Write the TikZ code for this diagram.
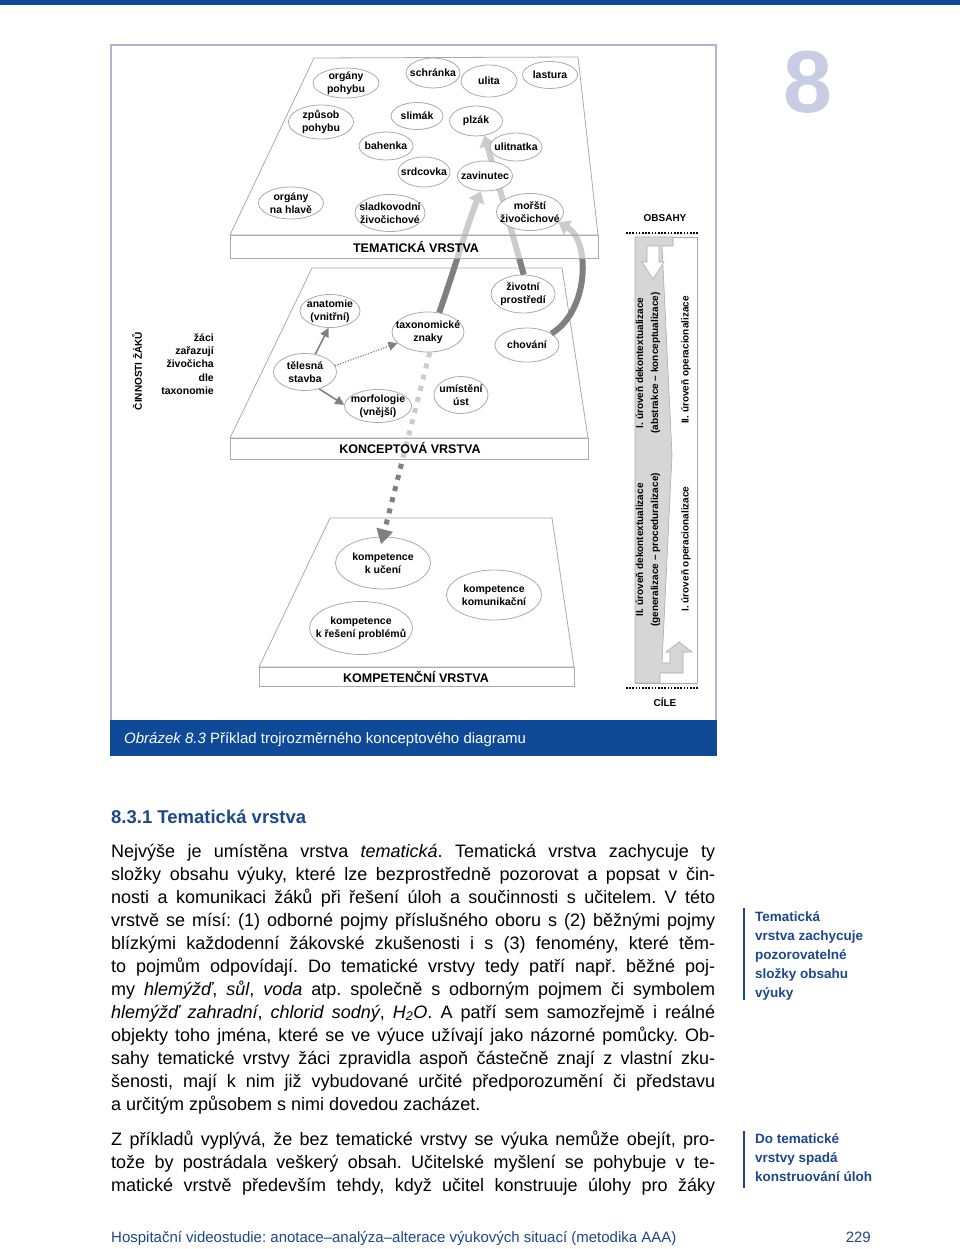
\documentclass[tikz,border=0pt]{standalone}
\usepackage{fontspec}
\setmainfont{Liberation Sans}
\usetikzlibrary{shapes.geometric,arrows.meta}
\definecolor{pblue}{RGB}{14,74,152}
\definecolor{txtblue}{RGB}{28,72,140}
\definecolor{frameblue}{RGB}{172,182,212}
\definecolor{lgray}{RGB}{170,170,170}
\definecolor{agray}{RGB}{128,128,128}
\definecolor{barg}{RGB}{214,214,214}
\definecolor{eightc}{RGB}{200,205,228}
\pgfdeclarelayer{layzero}
\pgfdeclarelayer{layone}
\pgfdeclarelayer{laytwo}
\pgfdeclarelayer{laythree}
\pgfdeclarelayer{layfour}
\pgfdeclarelayer{layfive}
\pgfsetlayers{layzero,layone,laytwo,laythree,layfour,layfive,main}
\newcommand\ellnode[5]{\node[ell={#3}{#4}] (#1) at (#2) {}; \node[etx] at (#1.center) {#5};}
\newcommand\bodyline[2]{\node[bodytext] at (111,#1) {\makebox[604pt][s]{#2}};}
\frenchspacing
\begin{document}
\begin{tikzpicture}[x=1pt,y=-1pt,
  ell/.style n args={2}{ellipse,draw=lgray,line width=0.8pt,fill=white,inner sep=0pt,minimum width=#1pt,minimum height=#2pt},
  etx/.style={align=center,inner sep=0pt,font=\fontsize{10.5}{13}\selectfont\bfseries},
  face/.style={draw=lgray,line width=0.8pt,fill=white,fill opacity=0.6},
  solidface/.style={draw=lgray,line width=0.8pt,fill=white},
  lbl/.style={font=\fontsize{12.5}{14}\selectfont\bfseries},
  sarr/.style={draw=agray,line width=1.6pt,-{Triangle[length=9pt,width=9pt]}},
  sdot/.style={draw=agray,line width=1.2pt,dash pattern=on 1.2pt off 1.5pt,-{Triangle[length=9pt,width=9pt]}},
  thickarr/.style={draw=agray,line width=6pt,-{Triangle[length=11pt,width=16pt]}},
  dotarr/.style={draw=agray,line width=5pt,dash pattern=on 5pt off 6.5pt,-{Triangle[length=15pt,width=16pt]}},
  bodytext/.style={anchor=base west,inner sep=0pt,font=\fontsize{18}{23}\selectfont},
  side/.style={anchor=north west,inner sep=0pt,align=left,text=txtblue,font=\fontsize{13.5}{19}\selectfont\bfseries},
  rot/.style={rotate=90,align=center,inner sep=0pt,font=\fontsize{10}{15}\selectfont\bfseries}
]
\useasboundingbox (0,0) rectangle (960,1249);
\begin{pgfonlayer}{layzero}
\fill[white] (0,0) rectangle (960,1249);
\fill[pblue] (0,0) rectangle (960,5);
\draw[frameblue,line width=2pt] (111,720) -- (111,45) -- (716,45) -- (716,720);
\fill[pblue] (110,720) rectangle (717,756);
\node[anchor=base west,inner sep=0pt,text=white,font=\fontsize{15}{17}\selectfont] (cap) at (124,743) {\textit{Obrázek 8.3} Příklad trojrozměrného konceptového diagramu};
\node[text=eightc,inner sep=0pt,font=\fontsize{88}{88}\selectfont\bfseries] (eight) at (808,82) {8};
% competence layer
\draw[solidface] (330,518) -- (552,518) -- (574,667) -- (259,667) -- cycle;
\draw[solidface] (259,667) rectangle (574,686);
\node[lbl] (kompl) at (416,677) {KOMPETENČNÍ VRSTVA};
\ellnode{uceni}{383,563}{95}{52}{kompetence\\k učení}
\ellnode{kom}{494,595}{95}{50}{kompetence\\komunikační}
\ellnode{res}{361,628}{103}{53}{kompetence\\k řešení problémů}
% left texts
\node[rotate=90,inner sep=0pt,font=\fontsize{10}{12}\selectfont\bfseries] (cin) at (137,371) {ČINNOSTI ŽÁKŮ};
\node[anchor=east,align=right,inner sep=0pt,font=\fontsize{10.5}{13.4}\selectfont\bfseries] (zaci) at (214,364) {žáci\\zařazují\\živočicha\\dle\\taxonomie};
% right panel
\node[inner sep=0pt,font=\fontsize{10}{12}\selectfont\bfseries] (obs) at (665,218) {OBSAHY};
\node[inner sep=0pt,font=\fontsize{10}{12}\selectfont\bfseries] (cile) at (665,702) {CÍLE};
\draw[black,line width=1.6pt,dash pattern=on 1.6pt off 1.6pt] (626,233) -- (698,233);
\draw[black,line width=1.6pt,dash pattern=on 1.6pt off 1.6pt] (626,688) -- (698,688);
\draw[lgray,line width=0.8pt,fill=white] (635,237) rectangle (697,683);
\draw[lgray,line width=0.6pt,fill=barg] (635,237) -- (673,237) -- (673,246) -- (662,246) -- (672,455) -- (662,663) -- (670,663) -- (670,652) -- (666,652) -- (679,642) -- (692,652) -- (683,652) -- (683,673) -- (660,673) -- (660,683) -- (635,683) -- cycle;
\draw[lgray,line width=0.6pt,fill=white] (647,246) -- (659,246) -- (659,262) -- (664,262) -- (653,279) -- (642,262) -- (647,262) -- cycle;
\node[rot] (t1) at (648,363) {I. úroveň dekontextualizace\\(abstrakce – konceptualizace)};
\node[rot] (t2) at (648,550) {II. úroveň dekontextualizace\\(generalizace – proceduralizace)};
\node[rot] (t3) at (686,360) {II. úroveň operacionalizace};
\node[rot] (t4) at (686,549) {I. úroveň operacionalizace};
% body text
\node[anchor=base west,inner sep=0pt,text=txtblue,font=\fontsize{18.5}{20}\selectfont\bfseries] (head) at (111,823) {8.3.1 Tematická vrstva};
\bodyline{857}{Nejvýše je umístěna vrstva \textit{tematická}. Tematická vrstva zachycuje ty}
\bodyline{880}{složky obsahu výuky, které lze bezprostředně pozorovat a popsat v čin-}
\bodyline{903}{nosti a komunikaci žáků při řešení úloh a součinnosti s učitelem. V této}
\bodyline{926}{vrstvě se mísí: (1) odborné pojmy příslušného oboru s (2) běžnými pojmy}
\bodyline{949}{blízkými každodenní žákovské zkušenosti i s (3) fenomény, které těm-}
\bodyline{972}{to pojmům odpovídají. Do tematické vrstvy tedy patří např. běžné poj-}
\bodyline{995}{my \textit{hlemýžď}, \textit{sůl}, \textit{voda} atp. společně s odborným pojmem či symbolem}
\bodyline{1018}{\textit{hlemýžď zahradní}, \textit{chlorid sodný}, \textit{H\textsubscript{2}O}. A patří sem samozřejmě i reálné}
\bodyline{1041}{objekty toho jména, které se ve výuce užívají jako názorné pomůcky. Ob-}
\bodyline{1064}{sahy tematické vrstvy žáci zpravidla aspoň částečně znají z vlastní zku-}
\bodyline{1087}{šenosti, mají k nim již vybudované určité předporozumění či představu}
\node[bodytext] (last) at (111,1110) {a určitým způsobem s nimi dovedou zacházet.};
\bodyline{1145}{Z příkladů vyplývá, že bez tematické vrstvy se výuka nemůže obejít, pro-}
\bodyline{1168}{tože by postrádala veškerý obsah. Učitelské myšlení se pohybuje v te-}
\bodyline{1191}{matické vrstvě především tehdy, když učitel konstruuje úlohy pro žáky}
% side notes
\draw[txtblue,line width=2.5pt] (744,908) -- (744,1000);
\node[side] (s1) at (755,911) {Tematická\\vrstva zachycuje\\pozorovatelné\\složky obsahu\\výuky};
\draw[txtblue,line width=2.5pt] (744,1131) -- (744,1188);
\node[side] (s2) at (755,1133) {Do tematické\\vrstvy spadá\\konstruování úloh};
% footer
\node[anchor=base west,inner sep=0pt,text=txtblue,font=\fontsize{15}{17}\selectfont] (foot) at (111,1242) {Hospitační videostudie: anotace–analýza–alterace výukových situací (metodika AAA)};
\node[anchor=base east,inner sep=0pt,text=txtblue,font=\fontsize{15}{17}\selectfont] (pg) at (871,1242) {229};
\end{pgfonlayer}
% concept layer face
\begin{pgfonlayer}{laytwo}
\draw[face] (312,268) -- (562,268) -- (588,438) -- (230,438) -- cycle;
\draw[face] (230,438) rectangle (588,459);
\end{pgfonlayer}
\begin{pgfonlayer}{laythree}
\node[lbl] (koncl) at (410,448) {KONCEPTOVÁ VRSTVA};
\ellnode{anat}{330,311}{60}{33}{anatomie\\(vnitřní)}
\ellnode{tax}{428,332}{72}{40}{taxonomické\\znaky}
\ellnode{ziv}{523,294}{64}{38}{životní\\prostředí}
\ellnode{chov}{527,345}{64}{34}{chování}
\ellnode{tel}{305,372}{63}{37}{tělesná\\stavba}
\ellnode{morf}{378,406}{67}{33}{morfologie\\(vnější)}
\ellnode{umi}{461,395}{54}{37}{umístění\\úst}
\draw[sarr] (tel.60) -- (anat.-95);
\draw[sarr] (tel.-50) -- (morf.178);
\draw[sdot] (tel.12) -- (tax.200);
\end{pgfonlayer}
\begin{pgfonlayer}{layone}
\draw[dotarr,shorten >=-8pt] (tax.-85) -- (uceni.north);
\end{pgfonlayer}
% thematic layer (nodes on main, face below them)
\node[lbl] (teml) at (416,247) {TEMATICKÁ VRSTVA};
\ellnode{op}{346,83}{66}{30}{orgány\\pohybu}
\ellnode{schr}{433,73}{54}{30}{schránka}
\ellnode{ulita}{489,81}{56}{32}{ulita}
\ellnode{last}{550,75}{55}{27}{lastura}
\ellnode{zp}{321,122}{65}{34}{způsob\\pohybu}
\ellnode{slim}{417,116}{52}{27}{slimák}
\ellnode{plz}{476,121}{53}{30}{plzák}
\ellnode{bah}{386,146}{54}{28}{bahenka}
\ellnode{ulit}{516,147}{52}{28}{ulitnatka}
\ellnode{srd}{424,172}{52}{30}{srdcovka}
\ellnode{zav}{485,176}{55}{30}{zavinutec}
\ellnode{onh}{291,203}{65}{32}{orgány\\na hlavě}
\ellnode{sla}{390,213}{70}{37}{sladkovodní\\živočichové}
\ellnode{mor}{530,212}{67}{37}{mořští\\živočichové}
\begin{pgfonlayer}{layfour}
\draw[thickarr] (tax.60) .. controls (455,268) and (468,222) .. (zav.-105);
\draw[thickarr] (ziv.88) .. controls (513,235) and (497,180) .. (plz.-60);
\draw[thickarr] (chov.25) .. controls (590,310) and (590,240) .. (mor.-20);
\end{pgfonlayer}
\begin{pgfonlayer}{layfive}
\draw[face] (314,58) -- (578,57) -- (598,235) -- (230,235) -- cycle;
\draw[face] (230,235) rectangle (598,258);
\end{pgfonlayer}
\end{tikzpicture}
\end{document}
